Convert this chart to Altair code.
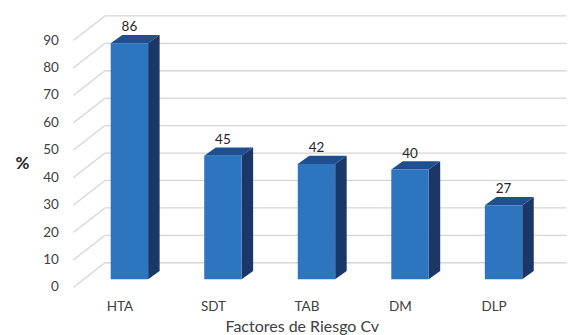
import altair as alt
import pandas as pd

# ---- data ----
categories = ["HTA", "SDT", "TAB", "DM", "DLP"]
values = [86, 45, 42, 40, 27]
tick_values = [0, 10, 20, 30, 40, 50, 60, 70, 80, 90]

# ---- 3-D styling constants (in scale units) ----
HW = 0.2        # half width of bar front face (x units, 1 = category step)
DX = 0.123      # depth of bar, x units
DY = 3.0        # depth of bar, y units
BACK_DY = 6.0   # back wall vertical shift (y units)
FRONT_DY = -3.0 # front edge of floor (y units)
WALL_X = -0.262 # back wall left x
FRONT_X = -0.6  # front corner x
GRID_END = 4.674

X_DOMAIN = [-0.6, 4.7]
Y_DOMAIN = [-3, 100]
STEP_PX = 93.6
UNIT_PX = 2.745
W = (X_DOMAIN[1] - X_DOMAIN[0]) * STEP_PX
H = (Y_DOMAIN[1] - Y_DOMAIN[0]) * UNIT_PX
LEFT = 129.5 - (0 - X_DOMAIN[0]) * STEP_PX
TOP = 279.3 - (Y_DOMAIN[1]) * UNIT_PX
BOTTOM = 335 - TOP - H

FONT = "Lato"

xs = alt.Scale(domain=X_DOMAIN, nice=False, zero=False)
ys = alt.Scale(domain=Y_DOMAIN, nice=False, zero=False)

# tables built from the arrays
front = pd.DataFrame({
    "cat": categories,
    "x": [i - HW for i in range(len(categories))],
    "x2": [i + HW for i in range(len(categories))],
    "y0": [0] * len(categories),
    "v": values,
    "xc": list(range(len(categories))),
})

top_rows, side_rows = [], []
for i, (c, v) in enumerate(zip(categories, values)):
    pts = [(i - HW, v, v), (i - HW + DX, v + DY, v), (i + HW, v + DY, v), (i + HW + DX, v + DY, v + DY)]
    for x, yt, yb in pts:
        top_rows.append({"cat": c, "x": x, "y": yt, "y2": yb})
    for x, yt, yb in [(i + HW, v, 0), (i + HW + DX, v + DY, DY)]:
        side_rows.append({"cat": c, "x": x, "y": yt, "y2": yb})
top_df = pd.DataFrame(top_rows)
side_df = pd.DataFrame(side_rows)

grid_df = pd.DataFrame({
    "t": tick_values,
    "yb": [t + BACK_DY for t in tick_values],
    "yf": [t + FRONT_DY for t in tick_values],
    "xw": [WALL_X] * len(tick_values),
    "xe": [GRID_END] * len(tick_values),
    "xf": [FRONT_X] * len(tick_values),
})

label_expr = "[" + ",".join("'%s'" % c for c in categories) + "][datum.value]"

x_axis = alt.Axis(values=list(range(len(categories))), labelExpr=label_expr,
                  domain=False, ticks=False, grid=False, labelOffset=-10,
                  labelPadding=12, labelFont=FONT, labelFontSize=13.5,
                  labelColor="#404040", labelOverlap=False, labelFlush=False,
                  labelBound=False, title="Factores de Riesgo Cv",
                  titleFont=FONT, titleFontSize=16, titleFontWeight="normal",
                  titleColor="#404040", titleX=228.7, titleY=39.5,
                  titleBaseline="middle", titleAnchor="middle")
y_axis = alt.Axis(values=tick_values, domain=False, ticks=False, grid=False,
                  labelOffset=7.7, labelPadding=15, labelFont=FONT,
                  labelFontSize=13.5, labelColor="#404040",
                  labelOverlap=False, labelFlush=False, labelBound=False,
                  title="%",
                  titleAngle=0, titleFont=FONT, titleFontSize=17,
                  titleFontWeight="bold", titleColor="#262626",
                  titleX=22 - LEFT, titleY=164 - TOP,
                  titleAlign="center", titleBaseline="middle")

grid_h = alt.Chart(grid_df).mark_rule(color="#d6d6d6", strokeWidth=1.3).encode(
    x=alt.X("xw:Q", scale=xs, axis=x_axis),
    x2="xe:Q",
    y=alt.Y("yb:Q", scale=ys, axis=y_axis),
)

grid_d = alt.Chart(grid_df).mark_rule(color="#d6d6d6", strokeWidth=1.3).encode(
    x=alt.X("xf:Q", scale=xs, axis=x_axis), x2="xw:Q",
    y=alt.Y("yf:Q", scale=ys, axis=y_axis), y2="yb:Q",
)

front_bars = alt.Chart(front).mark_rect(color="#2e75c0").encode(
    x=alt.X("x:Q", scale=xs, axis=x_axis), x2="x2:Q",
    y=alt.Y("y0:Q", scale=ys, axis=y_axis), y2="v:Q",
)

top_faces = alt.Chart(top_df).mark_area(color="#1f4f8f", opacity=1, interpolate="linear").encode(
    x=alt.X("x:Q", scale=xs, axis=x_axis), y=alt.Y("y:Q", scale=ys, axis=y_axis),
    y2="y2:Q", detail="cat:N",
)

side_faces = alt.Chart(side_df).mark_area(color="#1b3768", opacity=1, interpolate="linear").encode(
    x=alt.X("x:Q", scale=xs, axis=x_axis), y=alt.Y("y:Q", scale=ys, axis=y_axis),
    y2="y2:Q", detail="cat:N",
)

labels = alt.Chart(front).mark_text(font=FONT, fontSize=13.5, color="#262626",
                                    baseline="middle", dy=-16).encode(
    x=alt.X("xc:Q", scale=xs, axis=x_axis), y=alt.Y("v:Q", scale=ys, axis=y_axis),
    text="v:Q",
)

chart = alt.layer(grid_h, grid_d, side_faces, top_faces, front_bars, labels).properties(
    width=W, height=H,
    autosize=alt.AutoSizeParams(type="none"),
    padding={"left": LEFT, "top": TOP, "right": 0, "bottom": BOTTOM},
    background="white",
).configure_view(stroke=None).configure_axis(labelOverlap=False)

chart.save("out.html", embed_options={"renderer": "svg", "actions": False})
